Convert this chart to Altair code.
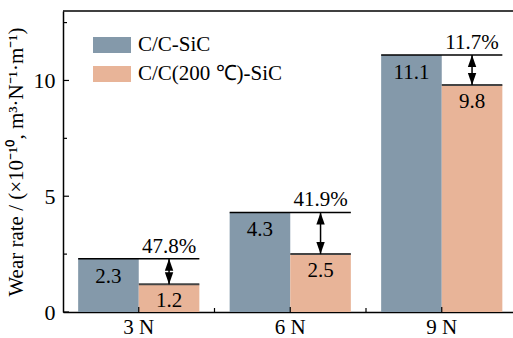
import altair as alt
import pandas as pd

# Wear rate of the two composites at each normal load
loads = ["3 N", "6 N", "9 N"]
cc_sic = [2.3, 4.3, 11.1]
cc_200_sic = [1.2, 2.5, 9.8]
reduction = ["47.8%", "41.9%", "11.7%"]

series_names = ["C/C-SiC", "C/C(200 ℃)-SiC"]
series_colors = ["#8499AA", "#E8B498"]

y_major = [0, 5, 10]
y_minor = [2.5, 7.5, 12.5]

FONT = "Times New Roman"
W, H = 450, 301
X_RANGE = 454.5
STEP = X_RANGE / 3

wide = pd.DataFrame({
    "load": loads,
    "a": cc_sic,
    "b": cc_200_sic,
    "pct": reduction,
})

x_scale = alt.Scale(domain=loads, paddingInner=0.2, paddingOuter=0.1, range=[0, X_RANGE])
y_scale = alt.Scale(domain=[0, 13], nice=False, zero=True)

x_axis = alt.Axis(
    title=None, ticks=False, labelAngle=0, labelFont=FONT, labelFontSize=21,
    labelColor="black", labelPadding=4, domainColor="black", domainWidth=1.5,
)
y_axis = alt.Axis(
    values=y_major, ticks=False, grid=False, labelFont=FONT, labelFontSize=22,
    labelColor="black", labelPadding=8, domainColor="black", domainWidth=1.5,
    title="Wear rate / (×10⁻¹⁰, m³·N⁻¹·m⁻¹)", titleFont=FONT, titleFontSize=21,
    titleFontWeight="normal", titleColor="black", titlePadding=7,
)

base = alt.Chart(wide)

bars = base.transform_fold(["a", "b"], as_=["key", "value"]).transform_calculate(
    series=f"datum.key == 'a' ? '{series_names[0]}' : '{series_names[1]}'"
).mark_bar().encode(
    x=alt.X("load:N", scale=x_scale, axis=x_axis, sort=loads),
    xOffset=alt.XOffset("series:N", scale=alt.Scale(domain=series_names, paddingInner=0, paddingOuter=0)),
    y=alt.Y("value:Q", scale=y_scale, axis=y_axis),
    color=alt.Color(
        "series:N",
        scale=alt.Scale(domain=series_names, range=series_colors),
        legend=alt.Legend(
            title=None, orient="none", legendX=30, legendY=15,
            symbolType="M-1,-0.42H1V0.42H-1Z", symbolSize=1444, symbolStrokeWidth=0,
            symbolOpacity=1, labelFont=FONT, labelFontSize=21, labelColor="black",
            labelOffset=7, rowPadding=-10, labelLimit=300,
        ),
    ),
)

# line across the whole group at the C/C-SiC level
top_a = base.mark_rule(color="black", strokeWidth=1.5).encode(
    x=alt.X("load:N", scale=x_scale, bandPosition=0),
    x2=alt.X2("load:N", bandPosition=1),
    y=alt.Y("a:Q", scale=y_scale),
)

# cap on the treated bar
top_b = base.mark_rule(color="#444444", strokeWidth=2).encode(
    x=alt.X("load:N", scale=x_scale, bandPosition=0.5),
    x2=alt.X2("load:N", bandPosition=1),
    y=alt.Y("b:Q", scale=y_scale),
)

# double-headed arrow between the two levels
shaft = base.mark_rule(color="black", strokeWidth=1.5).encode(
    x=alt.X("load:N", scale=x_scale, bandPosition=0.75),
    y=alt.Y("a:Q", scale=y_scale),
    y2="b:Q",
)
head_up = base.mark_point(
    shape="M0,-1L0.7,1L-0.7,1Z", size=144, filled=True, color="black", opacity=1, yOffset=6
).encode(
    x=alt.X("load:N", scale=x_scale, bandPosition=0.75),
    y=alt.Y("a:Q", scale=y_scale),
)
head_down = base.mark_point(
    shape="M0,1L0.7,-1L-0.7,-1Z", size=144, filled=True, color="black", opacity=1, yOffset=-6
).encode(
    x=alt.X("load:N", scale=x_scale, bandPosition=0.75),
    y=alt.Y("b:Q", scale=y_scale),
)

pct_text = base.mark_text(dy=-6, font=FONT, fontSize=21, color="black", align="center", baseline="alphabetic").encode(
    x=alt.X("load:N", scale=x_scale, bandPosition=0.75),
    y=alt.Y("a:Q", scale=y_scale),
    text="pct:N",
)
a_text = base.mark_text(dy=24, font=FONT, fontSize=21, color="black", align="center", baseline="alphabetic").encode(
    x=alt.X("load:N", scale=x_scale, bandPosition=0.25),
    y=alt.Y("a:Q", scale=y_scale),
    text=alt.Text("a:Q", format=".1f"),
)
b_text = base.mark_text(dy=23, font=FONT, fontSize=21, color="black", align="center", baseline="alphabetic").encode(
    x=alt.X("load:N", scale=x_scale, bandPosition=0.75),
    y=alt.Y("b:Q", scale=y_scale),
    text=alt.Text("b:Q", format=".1f"),
)

# inward tick marks
ytick_major = alt.Chart(pd.DataFrame({"v": y_major})).mark_rule(color="black", strokeWidth=1.2).encode(
    y=alt.Y("v:Q", scale=y_scale), x=alt.value(0), x2=alt.value(6)
)
ytick_minor = alt.Chart(pd.DataFrame({"v": y_minor})).mark_rule(color="black", strokeWidth=1.2).encode(
    y=alt.Y("v:Q", scale=y_scale), x=alt.value(0), x2=alt.value(4)
)
xtick_major = base.mark_rule(color="black", strokeWidth=1.2).encode(
    x=alt.X("load:N", scale=x_scale), y=alt.value(H), y2=alt.value(H - 5)
)
# minor ticks halfway between neighbouring loads
xtick_minor = alt.Chart(pd.DataFrame({"load": loads[:-1]})).mark_rule(
    color="black", strokeWidth=1.2, xOffset=STEP / 2
).encode(
    x=alt.X("load:N", scale=x_scale), y=alt.value(H), y2=alt.value(H - 4)
)

# top frame line
frame_top = alt.Chart(pd.DataFrame({"k": [0]})).mark_rule(color="black", strokeWidth=1.5).encode(
    x=alt.value(0), x2=alt.value(W), y=alt.value(0)
)

chart = alt.layer(
    bars, top_a, top_b, shaft, head_up, head_down, pct_text, a_text, b_text,
    ytick_major, ytick_minor, xtick_major, xtick_minor, frame_top,
).properties(
    width=W, height=H,
    autosize=alt.AutoSizeParams(type="none"),
    padding={"left": 63, "top": 11, "right": 0, "bottom": 26},
).configure(font=FONT, background="white").configure_view(stroke=None)

chart.save("out.html", embed_options={"renderer": "svg", "actions": False})
